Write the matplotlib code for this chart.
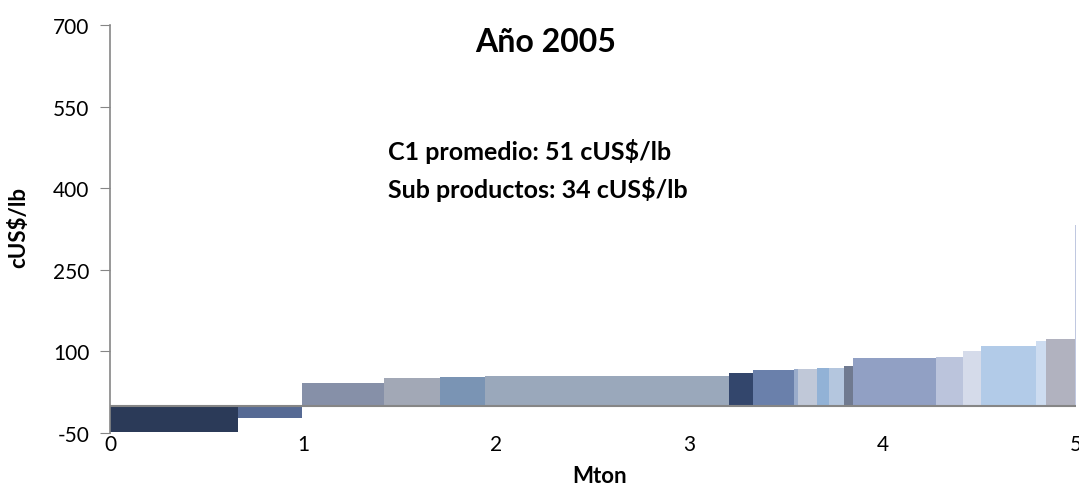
import numpy as np
import matplotlib
matplotlib.use("Agg")
import matplotlib.pyplot as plt

plt.rcParams['font.family'] = ['Lato', 'DejaVu Sans']
plt.rcParams['axes.unicode_minus'] = False

# Data: widths (Mton) and cash cost (cUS$/lb)
widths = [0.662, 0.332, 0.426, 0.290, 0.233, 1.259, 0.124, 0.212, 0.021, 0.098,
          0.067, 0.073, 0.047, 0.430, 0.140, 0.093, 0.285, 0.052, 0.150, 0.006]
costs = [-48, -22, 42, 51, 53, 55, 60, 66, 68, 68,
         69.5, 69.5, 73, 88, 90, 101, 110, 119, 123, 332]
colors = ['#2b3a58', '#566a94', '#8690a8', '#a2a8b6', '#7a94b4', '#9aa8bb',
          '#33466c', '#6a80ab', '#9aaccb', '#c0c8d8', '#92b2d6', '#b4c6de',
          '#707a90', '#91a0c4', '#bbc4dc', '#d5dbea', '#b2cbe8', '#cddcf0',
          '#b1b2bf', '#c0c8e0']
yticks = [-50, 100, 250, 400, 550, 700]
xticks = [0, 1, 2, 3, 4, 5]

lefts = np.concatenate([[0], np.cumsum(widths)[:-1]])

W, H = 1079, 485
fig = plt.figure(figsize=(W/100, H/100), dpi=100)
ax = fig.add_axes([110/W, 1-434/H, (1076-110)/W, (434-26)/H])

ax.bar(lefts, costs, width=widths, align='edge', color=colors, linewidth=0, zorder=2)
ax.axhline(0, color='#868686', linewidth=1.5, zorder=3)

ax.set_xlim(0, 5)
ax.set_ylim(-50, 700)
ax.set_yticks(yticks)
ax.set_xticks(xticks)
ax.tick_params(axis='y', direction='out', length=7, color='#868686', labelsize=15, pad=8)
ax.tick_params(axis='x', length=0, labelsize=15, pad=1)

for s in ['top', 'right', 'bottom']:
    ax.spines[s].set_visible(False)
ax.spines['left'].set_color('#868686')
ax.spines['left'].set_linewidth(1.2)

fig.text(19/W, 1-227/H, 'cUS$/lb', fontsize=16, fontweight='bold', rotation=90,
         ha='center', va='center')
fig.text(600/W, 1-483/H, 'Mton', fontsize=16, fontweight='bold', ha='center', va='baseline')

fig.text(546/W, 1-52/H, 'Año 2005', fontsize=23, fontweight='bold', ha='center', va='baseline')
fig.text(388/W, 1-160/H, 'C1 promedio: 51 cUS$/lb', fontsize=18, fontweight='bold', ha='left', va='baseline')
fig.text(388/W, 1-198/H, 'Sub productos: 34 cUS$/lb', fontsize=18, fontweight='bold', ha='left', va='baseline')

fig.savefig('out.png', dpi=100)
